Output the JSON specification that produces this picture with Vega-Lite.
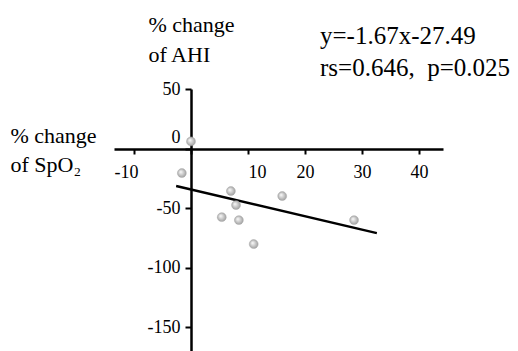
{
  "$schema": "https://vega.github.io/schema/vega-lite/v6.json",
  "width": 329,
  "height": 262,
  "autosize": {"type": "none"},
  "padding": {"left": 114, "top": 89, "right": 75, "bottom": 0},
  "background": "white",
  "config": {
    "view": {"stroke": null},
    "font": "Liberation Serif",
    "axis": {"labelFont": "Liberation Serif", "titleFont": "Liberation Serif"},
    "title": {"font": "Liberation Serif"}
  },
  "title": {
    "text": ["y=-1.67x-27.49", "rs=0.646,\u00a0 p=0.025"],
    "anchor": "start",
    "frame": "group",
    "dx": 206,
    "dy": 100,
    "offset": 7,
    "baseline": "bottom",
    "fontSize": 25,
    "fontWeight": "normal",
    "lineHeight": 32,
    "color": "black",
    "font": "Liberation Serif"
  },
  "datasets": {
    "pts": [
      {"x": 0, "y": 6},
      {"x": -1.6, "y": -20.6},
      {"x": 7.0, "y": -35.7},
      {"x": 7.9, "y": -47.5},
      {"x": 5.4, "y": -57.6},
      {"x": 8.4, "y": -60.1},
      {"x": 11.0, "y": -80.2},
      {"x": 16.0, "y": -39.9},
      {"x": 28.6, "y": -60.1}
    ],
    "fit": [
      {"x": -2.6, "y": -31.5},
      {"x": 32.6, "y": -71}
    ]
  },
  "encoding": {
    "x": {
      "field": "x",
      "type": "quantitative",
      "scale": {"domain": [-13.5, 44.2], "nice": false, "zero": false},
      "axis": {
        "orient": "bottom",
        "offset": -202,
        "values": [-10, 0, 10, 20, 30, 40],
        "labelExpr": "datum.value == 0 ? '' : '' + datum.value",
        "grid": false,
        "domainColor": "black",
        "domainWidth": 2.5,
        "tickColor": "black",
        "tickWidth": 2,
        "tickSize": 5,
        "labelFont": "Liberation Serif",
        "labelFontSize": 18,
        "labelColor": "black",
        "labelPadding": 9,
        "labelFlush": false,
        "labelOverlap": false,
        "labelOffset": {"condition": [{"test": "datum.value == 10", "value": 9}, {"test": "datum.value == -10", "value": -8}], "value": 0},
        "title": ["% change", "of SpO₂"],
        "titleFont": "Liberation Serif",
        "titleFontSize": 22,
        "titleFontWeight": "normal",
        "titleColor": "black",
        "titleAngle": 0,
        "titleAlign": "left",
        "titleBaseline": "alphabetic",
        "titleX": -104,
        "titleY": -7,
        "titleLineHeight": 29
      }
    },
    "y": {
      "field": "y",
      "type": "quantitative",
      "scale": {"domain": [-170, 50], "nice": false, "zero": false},
      "axis": {
        "orient": "left",
        "offset": -77,
        "values": [50, 0, -50, -100, -150],
        "labelExpr": "'' + datum.value",
        "grid": false,
        "domainColor": "black",
        "domainWidth": 2.5,
        "tickColor": "black",
        "tickWidth": 2,
        "tickSize": 6,
        "labelFont": "Liberation Serif",
        "labelFontSize": 18,
        "labelColor": "black",
        "labelPadding": 5,
        "labelFlush": false,
        "labelOverlap": false,
        "labelOffset": {"condition": {"test": "datum.value == 0", "value": -11}, "value": 0},
        "title": ["% change", "of AHI"],
        "titleFont": "Liberation Serif",
        "titleFontSize": 22,
        "titleFontWeight": "normal",
        "titleColor": "black",
        "titleAngle": 0,
        "titleAlign": "left",
        "titleBaseline": "alphabetic",
        "titleX": -43,
        "titleY": -58,
        "titleLineHeight": 30
      }
    }
  },
  "layer": [
    {
      "data": {"name": "fit"},
      "mark": {"type": "line", "color": "black", "strokeWidth": 2.5}
    },
    {
      "data": {"name": "pts"},
      "mark": {
        "type": "circle",
        "size": 80,
        "opacity": 1,
        "fill": {
          "gradient": "radial",
          "x1": 0.35, "y1": 0.35, "r1": 0,
          "x2": 0.5, "y2": 0.5, "r2": 0.55,
          "stops": [
            {"offset": 0, "color": "#ffffff"},
            {"offset": 1, "color": "#9a9a9a"}
          ]
        },
        "stroke": "#a8a8a8",
        "strokeWidth": 0.5
      }
    }
  ]
}
